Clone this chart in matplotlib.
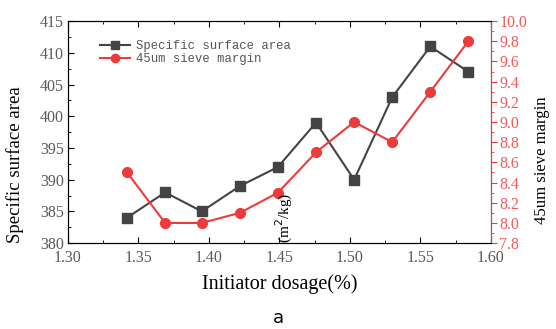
import matplotlib
matplotlib.use('Agg')
import matplotlib.pyplot as plt
from matplotlib.ticker import MultipleLocator, AutoMinorLocator

dosage = [1.342, 1.369, 1.395, 1.422, 1.449, 1.476, 1.503, 1.530, 1.557, 1.584]
surface_area = [384, 388, 385, 389, 392, 399, 390, 403, 411, 407]
sieve_margin = [8.5, 8.0, 8.0, 8.1, 8.3, 8.7, 9.0, 8.8, 9.3, 9.8]

gray = '#444444'
red = '#ee3a3a'
tick_gray = '#5a5a5a'
tick_red = '#f05a5a'

plt.rcParams['font.family'] = ['Liberation Serif', 'DejaVu Serif']

fig = plt.figure(figsize=(5.56, 3.29), dpi=100)
ax = fig.add_axes([0.122, 0.261, 0.761, 0.675])
ax2 = ax.twinx()

l1, = ax.plot(dosage, surface_area, color=gray, marker='s', markersize=7,
              lw=1.5, label='Specific surface area')
l2, = ax2.plot(dosage, sieve_margin, color=red, marker='o', markersize=7,
               lw=1.5, label='45um sieve margin')

ax.set_xlim(1.30, 1.60)
ax.set_ylim(380, 415)
ax2.set_ylim(7.8, 10.0)

ax.xaxis.set_major_locator(MultipleLocator(0.05))
ax.xaxis.set_minor_locator(AutoMinorLocator(2))
ax.yaxis.set_major_locator(MultipleLocator(5))
ax.yaxis.set_minor_locator(AutoMinorLocator(2))
ax2.yaxis.set_major_locator(MultipleLocator(0.2))
ax2.yaxis.set_minor_locator(AutoMinorLocator(2))
ax.xaxis.set_major_formatter(plt.FormatStrFormatter('%.2f'))
ax2.yaxis.set_major_formatter(plt.FormatStrFormatter('%.1f'))

ax.tick_params(axis='x', which='both', direction='in', top=True,
               labelsize=11.5, labelcolor=tick_gray, pad=5)
ax.tick_params(axis='x', which='major', length=4)
ax.tick_params(axis='x', which='minor', length=2)
ax.tick_params(axis='y', which='both', direction='in', labelsize=11.5,
               labelcolor=tick_gray, pad=3)
ax.tick_params(axis='y', which='major', length=4)
ax.tick_params(axis='y', which='minor', length=2)
ax2.tick_params(axis='y', which='both', direction='out', colors=red,
                labelsize=11.5, labelcolor=tick_red, pad=2)
ax2.tick_params(axis='y', which='major', length=4)
ax2.tick_params(axis='y', which='minor', length=2)
ax2.spines['right'].set_color(red)
for s in ['left', 'top', 'bottom']:
    ax.spines[s].set_color('black')

ax.set_xlabel('Initiator dosage(%)', fontsize=14.5, labelpad=6)

# axis titles sit lower than the axes centre in the original
fig.text(15 / 556, 1 - 165 / 329, 'Specific surface area', rotation=90,
         fontsize=13.5, ha='center', va='center')
fig.text(542 / 556, 1 - 160 / 329, '45um sieve margin', rotation=90,
         fontsize=12, ha='center', va='center')

leg = ax.legend(handles=[l1, l2], loc='upper left', bbox_to_anchor=(0.065, 0.935),
                frameon=False, handlelength=2.4, handletextpad=0.5,
                labelspacing=0.05, borderaxespad=0, markerscale=0.85,
                prop={'family': 'Liberation Mono', 'size': 8.8})
for t in leg.get_texts():
    t.set_color('#555555')

fig.text(284 / 556, 1 - 218 / 329, '(m$^2$/kg)', rotation=90, fontsize=11,
         ha='center', va='center')
fig.text(0.5, 1 - 318 / 329, 'a', fontsize=13, family='DejaVu Sans',
         ha='center', va='center')

fig.savefig('out.png', dpi=100)
